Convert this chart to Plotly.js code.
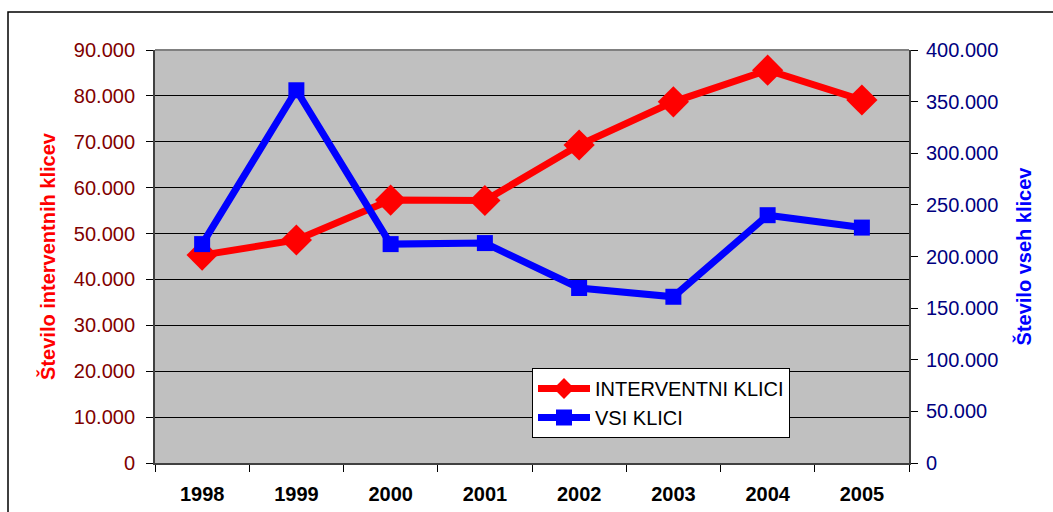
<!DOCTYPE html>
<html>
<head>
<meta charset="utf-8">
<script src="https://cdn.plot.ly/plotly-3.0.1.min.js"></script>
<style>html,body{margin:0;padding:0;background:#fff;}#chart{width:1053px;height:512px;}</style>
</head>
<body>
<div id="chart"></div>
<script>
const years = ['1998','1999','2000','2001','2002','2003','2004','2005'];
const interventniKlici = [45300, 48600, 57300, 57200, 69300, 78700, 85600, 79100];
const vsiKlici = [212000, 361000, 212000, 213000, 169500, 161000, 240000, 228000];
const leftTicks = [0,10000,20000,30000,40000,50000,60000,70000,80000,90000];
const rightTicks = [0,50000,100000,150000,200000,250000,300000,350000,400000];

const L = 155, R = 909, T = 50, B = 463, W = 1053, H = 512;
const px = x => (x - L) / (R - L);
const py = y => (B - y) / (B - T);

const traces = [
  {x: years, y: interventniKlici, name: 'INTERVENTNI KLICI', type: 'scatter', mode: 'lines+markers',
   line: {color: '#FF0000', width: 7}, marker: {symbol: 'diamond', size: 24, color: '#FF0000'}, yaxis: 'y'},
  {x: years, y: vsiKlici, name: 'VSI KLICI', type: 'scatter', mode: 'lines+markers',
   line: {color: '#0000FF', width: 7}, marker: {symbol: 'square', size: 16, color: '#0000FF'}, yaxis: 'y2'}
];

const FONT = 'Liberation Sans, Arial, sans-serif';
const layout = {
  width: W, height: H,
  margin: {l: L, r: W - R, t: T, b: H - B, pad: 0},
  paper_bgcolor: '#FFFFFF', plot_bgcolor: '#C0C0C0',
  separators: ',.',
  font: {family: FONT, size: 20, color: '#000'},
  showlegend: true,
  legend: {x: px(532), y: py(368), xanchor: 'left', yanchor: 'top', bgcolor: '#FFFFFF',
           bordercolor: '#000', borderwidth: 1, font: {size: 20, color: '#000'},
           tracegroupgap: 0, itemwidth: 52},
  xaxis: {type: 'category', tickson: 'boundaries', ticks: 'outside', ticklen: 7, tickcolor: '#000',
          showline: true, linecolor: '#404040', linewidth: 2, showgrid: false,
          ticklabelstandoff: 12,
          tickfont: {size: 20, color: '#000', family: FONT, weight: 'bold'},
          range: [-0.5, 7.5]},
  yaxis: {range: [0, 90000], tickvals: leftTicks, tickformat: ',d', ticks: 'outside', ticklen: 7,
          tickcolor: '#000', showline: true, linecolor: '#404040', linewidth: 2,
          showgrid: true, gridcolor: '#000', gridwidth: 1, zeroline: false,
          ticklabelstandoff: 7,
          tickfont: {size: 20, color: '#800000'},
          title: {text: 'Število interventnih klicev', standoff: 13,
                  font: {size: 20, color: '#FF0000', weight: 'bold'}}},
  yaxis2: {range: [0, 400000], tickvals: rightTicks, tickformat: ',d', overlaying: 'y', side: 'right',
           ticks: 'outside', ticklen: 7, tickcolor: '#000', showline: true, linecolor: '#404040', linewidth: 2,
           showgrid: false, zeroline: false,
           ticklabelstandoff: 4,
           tickfont: {size: 20, color: '#000080'},
           title: {text: 'Število vseh klicev', standoff: 20,
                   font: {size: 20, color: '#0000FF', weight: 'bold'}}},
  shapes: [
    {type: 'line', xref: 'paper', yref: 'paper', x0: 0, x1: 1, y0: 1, y1: 1,
     line: {color: '#808080', width: 2}},
    {type: 'rect', xref: 'paper', yref: 'paper', x0: px(8), x1: px(1060), y0: py(12), y1: py(520),
     line: {color: '#000', width: 1.5}, fillcolor: 'rgba(0,0,0,0)', layer: 'above'}
  ]
};

Plotly.newPlot('chart', traces, layout, {displayModeBar: false, staticPlot: true});
</script>
</body>
</html>
